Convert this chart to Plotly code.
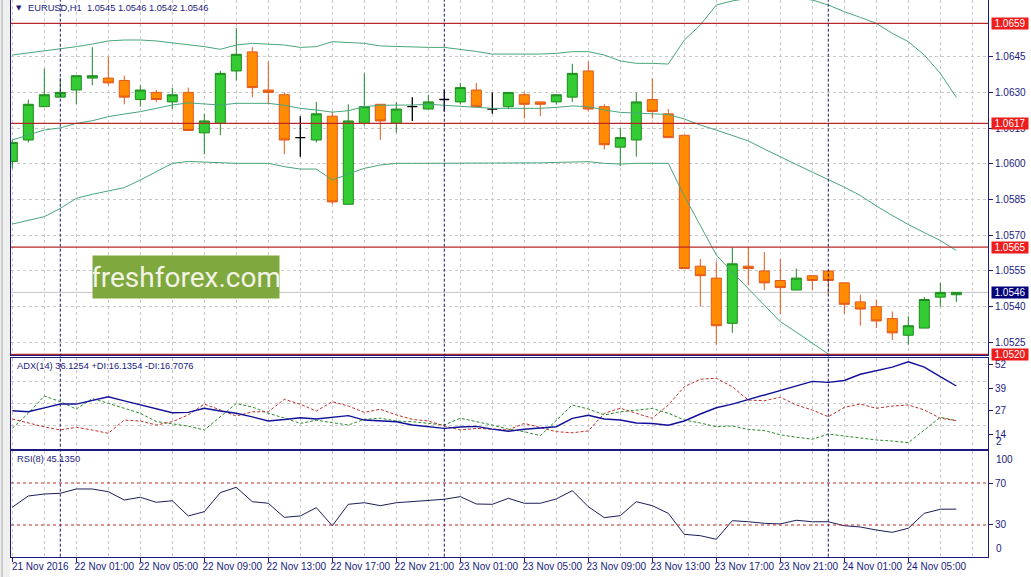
import plotly.graph_objects as go

# EURUSD H1 bars, 21 Nov 21:00 .. 24 Nov 08:00 (x axis = bar number)
bars = list(range(60))
time_ticks = list(range(0, 57, 4))
time_labels = ["21 Nov 2016", "22 Nov 01:00", "22 Nov 05:00", "22 Nov 09:00", "22 Nov 13:00",
    "22 Nov 17:00", "22 Nov 21:00", "23 Nov 01:00", "23 Nov 05:00", "23 Nov 09:00",
    "23 Nov 13:00", "23 Nov 17:00", "23 Nov 21:00", "24 Nov 01:00", "24 Nov 05:00"]
day_breaks = [3, 27, 51]

opens = [1.0601, 1.0610, 1.0624, 1.0628, 1.0631, 1.0636, 1.0636, 1.0635, 1.0627, 1.0630,
    1.0626, 1.0630, 1.0613, 1.0617, 1.0639, 1.0647, 1.0631, 1.0629, 1.0611, 1.0610,
    1.0620, 1.0583, 1.0617, 1.0625, 1.0617, 1.0624, 1.0623, 1.0627, 1.0626, 1.0631,
    1.0623, 1.0624, 1.0629, 1.0626, 1.0626, 1.0628, 1.0639, 1.0624, 1.0607, 1.0610,
    1.0627, 1.0621, 1.0612, 1.0557, 1.0552, 1.0533, 1.0557, 1.0555, 1.0551, 1.0547,
    1.0553, 1.0555, 1.0550, 1.0542, 1.0540, 1.0535, 1.0528, 1.0531, 1.0544, 1.0545]
highs = [1.0610, 1.0627, 1.0640, 1.0636, 1.0637, 1.0649, 1.0645, 1.0637, 1.0633, 1.0631,
    1.0632, 1.0632, 1.0621, 1.0639, 1.0657, 1.0649, 1.0643, 1.0630, 1.0620, 1.0626,
    1.0622, 1.0625, 1.0638, 1.0625, 1.0626, 1.0628, 1.0629, 1.0631, 1.0634, 1.0634,
    1.0630, 1.0630, 1.0630, 1.0626, 1.0629, 1.0642, 1.0643, 1.0625, 1.0615, 1.0630,
    1.0636, 1.0623, 1.0612, 1.0560, 1.0559, 1.0565, 1.0565, 1.0563, 1.0560, 1.0556,
    1.0553, 1.0555, 1.0550, 1.0545, 1.0543, 1.0538, 1.0536, 1.0544, 1.0550, 1.0546]
lows = [1.0598, 1.0609, 1.0624, 1.0628, 1.0625, 1.0633, 1.0633, 1.0625, 1.0624, 1.0626,
    1.0623, 1.0614, 1.0604, 1.0612, 1.0635, 1.0628, 1.0625, 1.0604, 1.0603, 1.0609,
    1.0583, 1.0583, 1.0616, 1.0610, 1.0613, 1.0618, 1.0623, 1.0622, 1.0625, 1.0624,
    1.0621, 1.0623, 1.0619, 1.0620, 1.0625, 1.0626, 1.0622, 1.0606, 1.0599, 1.0603,
    1.0619, 1.0611, 1.0556, 1.0540, 1.0524, 1.0529, 1.0549, 1.0547, 1.0537, 1.0547,
    1.0547, 1.0545, 1.0537, 1.0532, 1.0531, 1.0526, 1.0524, 1.0531, 1.0540, 1.0542]
closes = [1.0609, 1.0625, 1.0629, 1.0630, 1.0637, 1.0637, 1.0634, 1.0628, 1.0631, 1.0627,
    1.0629, 1.0614, 1.0618, 1.0638, 1.0646, 1.0632, 1.0630, 1.0610, 1.0611, 1.0621,
    1.0584, 1.0618, 1.0624, 1.0618, 1.0623, 1.0624, 1.0626, 1.0627, 1.0632, 1.0624,
    1.0623, 1.0630, 1.0625, 1.0625, 1.0629, 1.0638, 1.0623, 1.0608, 1.0611, 1.0626,
    1.0622, 1.0611, 1.0556, 1.0553, 1.0532, 1.0558, 1.0556, 1.0550, 1.0548, 1.0552,
    1.0551, 1.0551, 1.0541, 1.0539, 1.0534, 1.0529, 1.0532, 1.0543, 1.0546, 1.0546]

# Bollinger bands as drawn (upper goes off the top, lower leaves through the bottom)
bb_upper = [1.06457, 1.06465, 1.06475, 1.06482, 1.06492, 1.06503, 1.06516, 1.06520, 1.06520, 1.06516,
    1.06508, 1.06501, 1.06492, 1.06481, 1.06499, 1.06506, 1.06503, 1.06499, 1.06489, 1.06492,
    1.06513, 1.06511, 1.06506, 1.06495, 1.06492, 1.06490, 1.06489, 1.06489, 1.06481, 1.06472,
    1.06461, 1.06461, 1.06460, 1.06461, 1.06464, 1.06471, 1.06471, 1.06457, 1.06432, 1.06422,
    1.06422, 1.06419, 1.06520, 1.06583, 1.06667, 1.06684, 1.06695, 1.06705, 1.06705, 1.06695,
    1.06688, 1.06667, 1.06639, 1.06615, 1.06590, 1.06548, 1.06513, 1.06457, 1.06380, 1.06279]
bb_middle = [1.06100, 1.06121, 1.06142, 1.06151, 1.06170, 1.06181, 1.06198, 1.06209, 1.06219, 1.06233,
    1.06247, 1.06256, 1.06251, 1.06247, 1.06254, 1.06254, 1.06254, 1.06246, 1.06233, 1.06226,
    1.06217, 1.06223, 1.06240, 1.06246, 1.06246, 1.06247, 1.06250, 1.06246, 1.06240, 1.06237,
    1.06233, 1.06233, 1.06233, 1.06233, 1.06237, 1.06243, 1.06240, 1.06226, 1.06216, 1.06212,
    1.06209, 1.06207, 1.06188, 1.06163, 1.06142, 1.06119, 1.06096, 1.06062, 1.06031, 1.05997,
    1.05965, 1.05935, 1.05902, 1.05867, 1.05823, 1.05783, 1.05745, 1.05711, 1.05678, 1.05636]
bb_lower = [1.05747, 1.05764, 1.05778, 1.05813, 1.05855, 1.05872, 1.05886, 1.05900, 1.05932, 1.05967,
    1.06002, 1.06010, 1.06007, 1.06006, 1.06002, 1.06002, 1.06002, 1.05988, 1.05978, 1.05978,
    1.05932, 1.05957, 1.05981, 1.05995, 1.06002, 1.06002, 1.06002, 1.06002, 1.06004, 1.06004,
    1.06002, 1.06002, 1.06002, 1.06004, 1.06006, 1.06009, 1.06009, 1.06002, 1.05999, 1.06002,
    1.06002, 1.06002, 1.05865, 1.05742, 1.05617, 1.05545, 1.05476, 1.05407, 1.05337, 1.05293,
    1.05247, 1.05201, None, None, None, None, None, None, None, None]

levels = [1.0659, 1.0617, 1.0565, 1.0520]
price_ticks = [1.0525, 1.0540, 1.0555, 1.0570, 1.0585, 1.0600, 1.0615, 1.0630, 1.0645]

adx = [26.9, 26.3, 28.4, 30.5, 30.5, 32.7, 34.5, 32.2, 30.0, 27.8,
    25.8, 26.0, 28.2, 26.7, 25.5, 23.5, 21.3, 22.1, 23.1, 22.4,
    23.2, 24.2, 21.8, 21.3, 20.9, 19.1, 18.3, 17.3, 18.0, 18.4,
    16.9, 15.7, 16.8, 17.7, 18.2, 22.7, 24.4, 22.4, 21.8, 20.2,
    19.9, 19.0, 21.3, 25.1, 28.5, 30.5, 32.9, 35.4, 37.8, 40.3,
    42.8, 42.3, 43.3, 46.7, 48.7, 50.6, 53.5, 50.6, 45.4, 40.3]
plus_di = [17.3, 25.5, 34.9, 31.8, 27.8, 33.5, 30.9, 28.2, 25.5, 21.0,
    19.7, 18.5, 16.4, 23.6, 30.8, 28.9, 25.5, 22.9, 20.0, 21.7,
    20.2, 19.1, 22.2, 22.8, 21.3, 20.9, 20.0, 19.1, 22.8, 21.0,
    19.1, 16.9, 15.5, 13.3, 21.6, 30.0, 27.8, 24.6, 26.3, 27.3,
    28.1, 25.5, 21.8, 20.2, 18.2, 18.6, 16.7, 16.1, 13.8, 12.5,
    11.4, 14.2, 13.1, 12.2, 11.0, 10.4, 9.5, 16.4, 23.3, 21.5]
minus_di = [22.4, 20.2, 18.1, 16.4, 17.9, 16.4, 14.6, 21.8, 21.3, 19.1,
    20.9, 24.6, 30.5, 27.3, 24.0, 26.3, 26.3, 33.1, 30.4, 26.7,
    31.8, 29.4, 26.0, 27.7, 24.6, 22.2, 21.3, 18.6, 16.4, 17.3,
    16.9, 16.4, 20.0, 17.9, 15.5, 14.9, 15.9, 25.5, 28.2, 25.5,
    22.8, 30.0, 39.9, 44.0, 44.5, 39.9, 32.7, 32.3, 34.2, 30.0,
    27.3, 23.6, 28.7, 30.5, 28.2, 29.4, 30.0, 27.3, 22.8, 21.5]
adx_ticks = [14, 27, 39, 52]

rsi = [46.9, 57.6, 59.5, 60.2, 64.3, 64.3, 61.7, 53.8, 56.4, 51.6,
    53.1, 38.6, 42.7, 60.8, 65.9, 52.2, 50.7, 37.3, 38.6, 46.5,
    29.3, 49.7, 51.2, 48.4, 51.2, 52.2, 53.1, 54.5, 57.0, 50.0,
    49.7, 55.4, 50.7, 50.7, 54.8, 62.7, 47.4, 37.0, 38.9, 52.2,
    48.4, 41.1, 21.1, 19.8, 16.4, 34.1, 33.1, 31.6, 31.0, 34.5,
    33.1, 33.1, 29.3, 28.1, 25.2, 23.0, 26.9, 41.1, 45.0, 45.1]
rsi_levels = [70, 30]

# page geometry (pixels) -> paper coordinates
W, H = 1031, 577
L, R = 11, 988
def fx(px):
    return (px - L) / (R - L)
def fy(py):
    return 1 - py / H

NAVY = "#1a1a80"
GRID = "#c8c8c8"
FONT = "Liberation Sans, DejaVu Sans, sans-serif"
x_range = [-1.3 / 16, -1.3 / 16 + (R - L) / 16]

fig = go.Figure()

normal = [i for i in bars if opens[i] != closes[i]]
doji = [i for i in bars if opens[i] == closes[i]]

fig.add_trace(go.Candlestick(
    x=normal,
    open=[opens[i] for i in normal], high=[highs[i] for i in normal],
    low=[lows[i] for i in normal], close=[closes[i] for i in normal],
    increasing=dict(fillcolor="#33cc33", line=dict(color="#1f8a1f", width=1)),
    decreasing=dict(fillcolor="#ff8c00", line=dict(color="#e4571a", width=1)),
    whiskerwidth=0, xaxis="x", yaxis="y", hoverinfo="skip",
))
fig.add_trace(go.Candlestick(
    x=doji,
    open=[opens[i] for i in doji], high=[highs[i] for i in doji],
    low=[lows[i] for i in doji], close=[closes[i] for i in doji],
    increasing=dict(fillcolor="#000000", line=dict(color="#000000", width=1.3)),
    decreasing=dict(fillcolor="#000000", line=dict(color="#000000", width=1.3)),
    whiskerwidth=0, xaxis="x", yaxis="y", hoverinfo="skip",
))
for band in [bb_upper, bb_middle, bb_lower]:
    fig.add_trace(go.Scatter(x=bars, y=band, mode="lines", line=dict(color="#48a57c", width=1),
        xaxis="x", yaxis="y", hoverinfo="skip"))

fig.add_trace(go.Scatter(x=bars, y=plus_di, mode="lines", line=dict(color="#2a8a2a", width=1, dash="3px,2px"),
    xaxis="x2", yaxis="y2"))
fig.add_trace(go.Scatter(x=bars, y=minus_di, mode="lines", line=dict(color="#c0302a", width=1, dash="3px,2px"),
    xaxis="x2", yaxis="y2"))
fig.add_trace(go.Scatter(x=bars, y=adx, mode="lines", line=dict(color="#10109a", width=1.4),
    xaxis="x2", yaxis="y2"))

fig.add_trace(go.Scatter(x=bars, y=rsi, mode="lines", line=dict(color="#1c1c5a", width=1),
    xaxis="x3", yaxis="y3"))

xbase = dict(
    range=x_range, tickmode="array", tickvals=time_ticks, ticktext=time_labels,
    showgrid=True, gridcolor=GRID, griddash="3px,3px", gridwidth=1,
    minor=dict(dtick=2, tick0=0, showgrid=True, gridcolor=GRID, griddash="3px,3px"),
    showline=True, linecolor=NAVY, linewidth=1, zeroline=False, fixedrange=True, automargin=False,
)
ybase = dict(
    side="right", showline=True, mirror=True, linecolor=NAVY, linewidth=1,
    ticks="outside", ticklen=4, tickcolor=NAVY, tickfont=dict(family=FONT, size=10, color=NAVY),
    zeroline=False, fixedrange=True, automargin=False,
)

main_dom = [fy(355), fy(0)]
adx_dom = [fy(448.5), fy(357.5)]
rsi_dom = [fy(556.7), fy(450.5)]

shapes = []
# left window strip
shapes.append(dict(type="rect", xref="paper", yref="paper", x0=fx(0), x1=fx(10), y0=0, y1=1,
    fillcolor="#efefef", line=dict(width=0), layer="below"))
shapes.append(dict(type="line", xref="paper", yref="paper", x0=fx(2), x1=fx(2), y0=0, y1=1,
    line=dict(color="#a8a8a8", width=1)))
for lv in levels:
    shapes.append(dict(type="line", xref="x domain", yref="y", x0=0, x1=1, y0=lv, y1=lv,
        line=dict(color="#b8282a", width=1.2)))
shapes.append(dict(type="line", xref="x domain", yref="y", x0=0, x1=1, y0=closes[-1], y1=closes[-1],
    line=dict(color="#c4c4c4", width=1), layer="below"))
for d in day_breaks:
    shapes.append(dict(type="line", xref="x", yref="paper", x0=d, x1=d, y0=rsi_dom[0], y1=1,
        line=dict(color=NAVY, width=1, dash="3px,2px")))
for lv in rsi_levels:
    shapes.append(dict(type="line", xref="x3 domain", yref="y3", x0=0, x1=1, y0=lv, y1=lv,
        line=dict(color="#c02828", width=1, dash="3px,3px")))

annotations = []
txt = dict(family=FONT, size=10, color=NAVY)
head = dict(family=FONT, size=9.3, color=NAVY)
annotations.append(dict(xref="paper", yref="paper", x=fx(14), y=fy(8), xanchor="left", yanchor="middle",
    text="▼", showarrow=False, font=dict(family="DejaVu Sans", size=7, color=NAVY)))
annotations.append(dict(xref="paper", yref="paper", x=fx(26), y=fy(8), xanchor="left", yanchor="middle",
    text="EURUSD,H1\u00a0\u00a0%.4f %.4f %.4f %.4f" % (opens[-1], highs[-1], lows[-1], closes[-1]),
    showarrow=False, font=head))
annotations.append(dict(xref="paper", yref="paper", x=fx(15), y=fy(366), xanchor="left", yanchor="middle",
    text="ADX(14) 36.1254 +DI:16.1354 -DI:16.7076", showarrow=False, font=head))
annotations.append(dict(xref="paper", yref="paper", x=fx(15), y=fy(459), xanchor="left", yanchor="middle",
    text="RSI(8) 45.1350", showarrow=False, font=head))
annotations.append(dict(xref="paper", yref="paper", x=fx(186), y=fy(277), xanchor="center", yanchor="middle",
    text="freshforex.com", showarrow=False, width=186, height=42, bgcolor="#7fa83e", borderpad=0,
    font=dict(family="Roboto, Open Sans, sans-serif", size=28, color="#f3f3e6")))
for lv in levels:
    annotations.append(dict(xref="paper", yref="y", x=fx(991), y=lv, xanchor="left", yanchor="middle",
        text="%.4f" % lv, showarrow=False, width=36, height=11, bgcolor="#ee1c1c", borderpad=0,
        font=dict(family=FONT, size=10, color="white")))
annotations.append(dict(xref="paper", yref="y", x=fx(991), y=closes[-1], xanchor="left", yanchor="middle",
    text="%.4f" % closes[-1], showarrow=False, width=36, height=11, bgcolor="#000078", borderpad=0,
    font=dict(family=FONT, size=10, color="white")))
annotations.append(dict(xref="paper", yref="y3", x=fx(994), y=100, xanchor="left", yanchor="top",
    text="100", showarrow=False, font=txt))
annotations.append(dict(xref="paper", yref="y3", x=fx(994), y=0, xanchor="left", yanchor="bottom",
    text="0", showarrow=False, font=txt))
annotations.append(dict(xref="paper", yref="paper", x=fx(994), y=fy(441), xanchor="left", yanchor="middle",
    text="2", showarrow=False, font=txt))

fig.update_layout(
    width=W, height=H,
    margin=dict(l=L, r=W - R, t=0, b=0, pad=0),
    paper_bgcolor="white", plot_bgcolor="white",
    showlegend=False, boxgap=0.375, boxgroupgap=0,
    font=dict(family=FONT, size=10, color=NAVY),
    xaxis=dict(xbase, domain=[0, 1], anchor="y", showticklabels=False, rangeslider=dict(visible=False)),
    xaxis2=dict(xbase, domain=[0, 1], anchor="y2", mirror=True, showticklabels=False),
    xaxis3=dict(xbase, domain=[0, 1], anchor="y3", mirror=True, ticks="outside", ticklen=4,
        tickcolor=NAVY, tickfont=dict(family=FONT, size=10, color=NAVY), ticklabelshift=28,
        ticklabelstandoff=-4),
    yaxis=dict(ybase, domain=main_dom, anchor="x", range=[1.05197, 1.06688],
        tickvals=price_ticks, ticktext=["%.4f" % p for p in price_ticks],
        showgrid=True, gridcolor=GRID, griddash="3px,3px"),
    yaxis2=dict(ybase, domain=adx_dom, anchor="x2", range=[6.35, 55.8], tickvals=adx_ticks,
        showgrid=False,
        minor=dict(tickvals=[19.1, 30.9, 42.7], showgrid=True, gridcolor=GRID, griddash="3px,3px", ticks="")),
    yaxis3=dict(ybase, domain=rsi_dom, anchor="x3", range=[-0.2, 100.95], tickvals=rsi_levels,
        showgrid=False),
    shapes=shapes,
    annotations=annotations,
)

# the page is photographed at exactly the figure size, so drop the default body margin
fig.write_html("out.html", config={"displayModeBar": False},
    post_script="document.body.style.margin='0';")
